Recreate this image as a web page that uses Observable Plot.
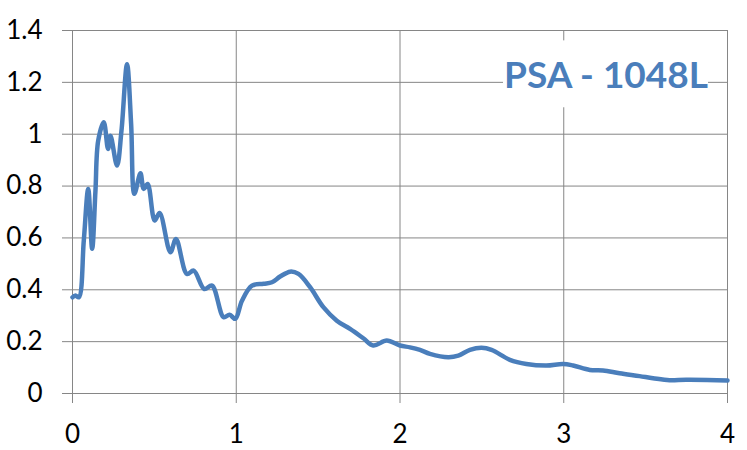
<!DOCTYPE html>
<html><head><meta charset="utf-8">
<script src="https://cdn.jsdelivr.net/npm/d3@7"></script>
<script src="https://cdn.jsdelivr.net/npm/@observablehq/plot@0.6"></script>
<style>body{margin:0;background:#fff} svg{display:block}</style>
</head><body><div id="chart"></div>
<script>
const xs = [0, 0.018, 0.039, 0.069, 0.096, 0.12, 0.14, 0.157, 0.191, 0.217, 0.232, 0.272, 0.299, 0.333, 0.358, 0.378, 0.415, 0.435, 0.459, 0.502, 0.532, 0.598, 0.632, 0.699, 0.74, 0.805, 0.852, 0.923, 0.959, 0.994, 1.035, 1.096, 1.167, 1.218, 1.268, 1.329, 1.38, 1.451, 1.532, 1.614, 1.695, 1.776, 1.837, 1.919, 2.0, 2.061, 2.122, 2.183, 2.295, 2.356, 2.427, 2.498, 2.559, 2.671, 2.772, 2.894, 2.996, 3.057, 3.159, 3.24, 3.341, 3.463, 3.545, 3.646, 3.748, 4.0];
const ys = [0.371, 0.378, 0.371, 0.59, 0.789, 0.558, 0.78, 0.975, 1.046, 0.943, 0.994, 0.879, 1.013, 1.27, 1.04, 0.77, 0.849, 0.789, 0.808, 0.667, 0.696, 0.545, 0.596, 0.461, 0.474, 0.403, 0.416, 0.294, 0.304, 0.288, 0.358, 0.416, 0.423, 0.429, 0.451, 0.470, 0.461, 0.41, 0.333, 0.281, 0.249, 0.213, 0.185, 0.204, 0.185, 0.178, 0.168, 0.153, 0.140, 0.146, 0.168, 0.176, 0.168, 0.130, 0.114, 0.108, 0.114, 0.108, 0.091, 0.089, 0.078, 0.067, 0.059, 0.051, 0.053, 0.050];
const xTicks = [0, 1, 2, 3, 4];
const yTicks = [0, 0.2, 0.4, 0.6, 0.8, 1, 1.2, 1.4];
const titleText = ["PSA - 1048L"];
const titleBox = [{x1: 2.632, x2: 3.884, y1: 1.102, y2: 1.36}];
const titleAt = [{x: 3.258, y: 1.225}];

const data = xs.map((x, i) => ({x, y: ys[i]}));
const grid = "#868686";
const font = "Lato, 'Open Sans', sans-serif";

const chart = Plot.plot({
  width: 747,
  height: 450,
  marginLeft: 72,
  marginRight: 20,
  marginTop: 30,
  marginBottom: 57,
  style: {fontFamily: font, fontSize: "26px", color: "#000", background: "#fff"},
  x: {domain: [0, 4], ticks: xTicks, label: null},
  y: {domain: [0, 1.4], ticks: yTicks, label: null},
  marks: [
    Plot.gridX(xTicks, {stroke: grid, strokeOpacity: 1, strokeWidth: 1}),
    Plot.gridY(yTicks, {stroke: grid, strokeOpacity: 1, strokeWidth: 1}),
    Plot.axisX(xTicks, {tickSize: 10, tickPadding: 21, stroke: grid, fill: "#000", label: null, tickFormat: d => String(d), fontSize: 26}),
    Plot.axisY(yTicks, {tickSize: 10, tickPadding: 20, stroke: grid, fill: "#000", label: null, tickFormat: d => String(d), fontSize: 26}),
    Plot.ruleX([0], {stroke: grid}),
    Plot.ruleY([0], {stroke: grid}),
    Plot.rect(titleBox, {x1: "x1", x2: "x2", y1: "y1", y2: "y2", fill: "#fff"}),
    Plot.line(data, {x: "x", y: "y", stroke: "#4a7ebb", strokeWidth: 4.5, curve: "catmull-rom", strokeLinejoin: "round"}),
    Plot.text(titleAt, {x: "x", y: "y", text: () => titleText[0], fill: "#4a7ebb", fontSize: 37, fontWeight: "bold", textAnchor: "middle", lineAnchor: "middle"})
  ]
});
document.getElementById("chart").appendChild(chart);
</script>
</body></html>
